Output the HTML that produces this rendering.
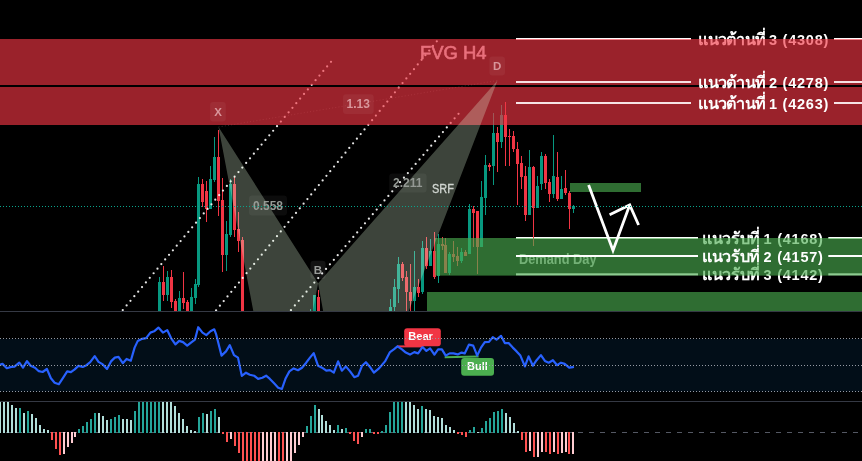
<!DOCTYPE html>
<html lang="th"><head><meta charset="utf-8"><title>Chart</title>
<style>
html,body{margin:0;padding:0;background:#000;}
body{width:862px;height:461px;overflow:hidden;position:relative;font-family:"Liberation Sans",sans-serif;}
svg text{font-family:"Liberation Sans",sans-serif;}
</style></head><body>
<svg width="862" height="461" viewBox="0 0 862 461" style="position:absolute;left:0;top:0;display:block">
<defs><clipPath id="cm"><rect x="0" y="0" width="862" height="311"/></clipPath><clipPath id="cd"><rect x="0" y="402" width="862" height="59"/></clipPath></defs>
<rect width="862" height="461" fill="#000"/>
<g font-family="'Liberation Sans', sans-serif" opacity="0.999">
<rect x="516" y="38" width="175" height="2" fill="#fff"/><rect x="834" y="38" width="28" height="2" fill="#fff"/><text x="698.3" y="44.6" font-size="16.2" font-weight="bold" fill="#fff" textLength="67.73">แนวต้านที่</text><text x="769" y="44.6" font-size="14.5" font-weight="bold" fill="#fff" textLength="59.3" lengthAdjust="spacing">3 (4308)</text>
<rect x="516" y="237" width="182" height="2" fill="#fff"/><rect x="828.3" y="237" width="33.7" height="2" fill="#fff"/><text x="702.2" y="243.6" font-size="16.2" font-weight="bold" fill="#fff" textLength="58.21">แนวรับที่</text><text x="763.6" y="243.6" font-size="14.5" font-weight="bold" fill="#fff" textLength="59.3" lengthAdjust="spacing">1 (4168)</text>
<rect x="516" y="273.3" width="182" height="2" fill="#fff"/><rect x="828.3" y="273.3" width="33.7" height="2" fill="#fff"/><text x="702.2" y="279.9" font-size="16.2" font-weight="bold" fill="#fff" textLength="58.21">แนวรับที่</text><text x="763.6" y="279.9" font-size="14.5" font-weight="bold" fill="#fff" textLength="59.3" lengthAdjust="spacing">3 (4142)</text>
<text x="519" y="264.3" font-size="14" font-weight="bold" fill="#fff" fill-opacity="0.72" textLength="77.5" lengthAdjust="spacingAndGlyphs">Demand Day</text>
<g clip-path="url(#cm)" shape-rendering="crispEdges">
<rect x="159" y="277" width="1" height="43" fill="#089981"/>
<rect x="158" y="281.8" width="3" height="38.2" fill="#089981"/>
<rect x="163" y="266" width="1" height="35" fill="#f23645"/>
<rect x="162" y="282" width="3" height="13" fill="#f23645"/>
<rect x="167" y="271" width="1" height="30" fill="#089981"/>
<rect x="166" y="277" width="3" height="18" fill="#089981"/>
<rect x="171" y="270" width="1" height="38" fill="#f23645"/>
<rect x="170" y="277" width="3" height="25" fill="#f23645"/>
<rect x="175" y="299" width="1" height="21" fill="#f23645"/>
<rect x="174" y="301" width="3" height="19" fill="#f23645"/>
<rect x="179" y="291" width="1" height="29" fill="#089981"/>
<rect x="178" y="298" width="3" height="22" fill="#089981"/>
<rect x="183" y="272" width="1" height="37" fill="#f23645"/>
<rect x="182" y="298" width="3" height="5" fill="#f23645"/>
<rect x="187" y="300" width="1" height="20" fill="#f23645"/>
<rect x="186" y="302" width="3" height="18" fill="#f23645"/>
<rect x="191" y="288" width="1" height="32" fill="#089981"/>
<rect x="190" y="297" width="3" height="23" fill="#089981"/>
<rect x="195" y="279" width="1" height="25" fill="#089981"/>
<rect x="194" y="284" width="3" height="14" fill="#089981"/>
<rect x="198" y="177" width="1" height="110" fill="#089981"/>
<rect x="197" y="184" width="3" height="101" fill="#089981"/>
<rect x="202" y="179" width="1" height="28" fill="#f23645"/>
<rect x="201" y="184" width="3" height="18" fill="#f23645"/>
<rect x="206" y="181" width="1" height="41" fill="#f23645"/>
<rect x="205" y="191" width="3" height="18" fill="#f23645"/>
<rect x="210" y="166" width="1" height="43" fill="#089981"/>
<rect x="209" y="179" width="3" height="30" fill="#089981"/>
<rect x="214" y="137" width="1" height="45" fill="#089981"/>
<rect x="213" y="157" width="3" height="23" fill="#089981"/>
<rect x="218" y="130" width="1" height="86" fill="#f23645"/>
<rect x="217" y="157" width="3" height="44" fill="#f23645"/>
<rect x="222" y="178" width="1" height="94" fill="#f23645"/>
<rect x="221" y="200" width="3" height="55" fill="#f23645"/>
<rect x="226" y="221" width="1" height="50" fill="#089981"/>
<rect x="225" y="234" width="3" height="21" fill="#089981"/>
<rect x="230" y="179" width="1" height="58" fill="#089981"/>
<rect x="229" y="184" width="3" height="51" fill="#089981"/>
<rect x="234" y="176" width="1" height="61" fill="#f23645"/>
<rect x="233" y="184" width="3" height="46" fill="#f23645"/>
<rect x="238" y="212" width="1" height="40" fill="#f23645"/>
<rect x="237" y="229" width="3" height="12" fill="#f23645"/>
<rect x="242" y="237" width="1" height="83" fill="#f23645"/>
<rect x="241" y="240" width="3" height="80" fill="#f23645"/>
<rect x="310" y="309" width="1" height="11" fill="#089981"/>
<rect x="309" y="312" width="3" height="8" fill="#089981"/>
<rect x="314" y="294.5" width="1" height="25.5" fill="#089981"/>
<rect x="313" y="295.3" width="3" height="24.7" fill="#089981"/>
<rect x="318" y="290" width="1" height="30" fill="#f23645"/>
<rect x="317" y="297" width="3" height="23" fill="#f23645"/>
<rect x="390" y="299" width="1" height="21" fill="#089981"/>
<rect x="389" y="307" width="3" height="13" fill="#089981"/>
<rect x="394" y="279.4" width="1" height="31.6" fill="#089981"/>
<rect x="393" y="287" width="3" height="20" fill="#089981"/>
<rect x="398" y="257" width="1" height="46" fill="#089981"/>
<rect x="397" y="264" width="3" height="25" fill="#089981"/>
<rect x="402" y="262" width="1" height="19" fill="#f23645"/>
<rect x="401" y="264" width="3" height="14" fill="#f23645"/>
<rect x="406" y="271" width="1" height="41" fill="#f23645"/>
<rect x="405" y="277" width="3" height="15" fill="#f23645"/>
<rect x="410" y="264" width="1" height="48" fill="#f23645"/>
<rect x="409" y="292" width="3" height="9" fill="#f23645"/>
<rect x="414" y="251" width="1" height="61" fill="#089981"/>
<rect x="413" y="287" width="3" height="14" fill="#089981"/>
<rect x="418" y="279" width="1" height="18" fill="#f23645"/>
<rect x="417" y="287" width="3" height="6" fill="#f23645"/>
<rect x="422" y="241" width="1" height="53" fill="#089981"/>
<rect x="421" y="248" width="3" height="44" fill="#089981"/>
<rect x="426" y="237" width="1" height="32" fill="#f23645"/>
<rect x="425" y="248" width="3" height="18" fill="#f23645"/>
<rect x="430" y="239" width="1" height="27" fill="#089981"/>
<rect x="429" y="251" width="3" height="15" fill="#089981"/>
<rect x="434" y="232" width="1" height="47" fill="#f23645"/>
<rect x="433" y="251" width="3" height="25.5" fill="#f23645"/>
<rect x="438" y="234" width="1" height="49" fill="#089981"/>
<rect x="437" y="244" width="3" height="31.6" fill="#089981"/>
<rect x="442" y="237" width="1" height="13" fill="#f23645"/>
<rect x="441" y="244" width="3" height="2" fill="#f23645"/>
<rect x="445" y="238" width="1" height="34.7" fill="#f23645"/>
<rect x="444" y="245" width="3" height="27.7" fill="#f23645"/>
<rect x="449" y="251.7" width="1" height="22.9" fill="#089981"/>
<rect x="448" y="254" width="3" height="18.7" fill="#089981"/>
<rect x="453" y="241" width="1" height="21" fill="#f23645"/>
<rect x="452" y="254" width="3" height="2.5" fill="#f23645"/>
<rect x="457" y="247" width="1" height="19" fill="#f23645"/>
<rect x="456" y="256" width="3" height="5" fill="#f23645"/>
<rect x="461" y="248" width="1" height="15" fill="#089981"/>
<rect x="460" y="251.7" width="3" height="9.3" fill="#089981"/>
<rect x="465" y="250" width="1" height="5.5" fill="#f23645"/>
<rect x="464" y="251.7" width="3" height="3.8" fill="#f23645"/>
<rect x="469" y="204" width="1" height="50" fill="#089981"/>
<rect x="468" y="208.8" width="3" height="45.2" fill="#089981"/>
<rect x="473" y="206" width="1" height="41" fill="#f23645"/>
<rect x="472" y="208.8" width="3" height="4.2" fill="#f23645"/>
<rect x="477" y="211" width="1" height="62.7" fill="#f23645"/>
<rect x="476" y="211" width="3" height="36" fill="#f23645"/>
<rect x="481" y="181" width="1" height="66" fill="#089981"/>
<rect x="480" y="197" width="3" height="50" fill="#089981"/>
<rect x="485" y="155" width="1" height="60" fill="#089981"/>
<rect x="484" y="165" width="3" height="33" fill="#089981"/>
<rect x="489" y="163" width="1" height="8" fill="#f23645"/>
<rect x="488" y="165" width="3" height="2" fill="#f23645"/>
<rect x="493" y="113" width="1" height="72" fill="#089981"/>
<rect x="492" y="133" width="3" height="33" fill="#089981"/>
<rect x="497" y="127" width="1" height="45" fill="#f23645"/>
<rect x="496" y="133" width="3" height="9" fill="#f23645"/>
<rect x="501" y="105" width="1" height="43" fill="#089981"/>
<rect x="500" y="115" width="3" height="27" fill="#089981"/>
<rect x="505" y="102" width="1" height="64" fill="#f23645"/>
<rect x="504" y="115" width="3" height="22" fill="#f23645"/>
<rect x="509" y="129" width="1" height="37" fill="#f23645"/>
<rect x="508" y="136" width="3" height="1" fill="#f23645"/>
<rect x="513" y="131" width="1" height="21" fill="#f23645"/>
<rect x="512" y="136" width="3" height="13" fill="#f23645"/>
<rect x="517" y="142" width="1" height="63" fill="#f23645"/>
<rect x="516" y="149" width="3" height="15" fill="#f23645"/>
<rect x="521" y="156" width="1" height="33" fill="#f23645"/>
<rect x="520" y="163" width="3" height="14" fill="#f23645"/>
<rect x="525" y="166" width="1" height="55" fill="#f23645"/>
<rect x="524" y="176" width="3" height="39" fill="#f23645"/>
<rect x="529" y="150" width="1" height="65" fill="#089981"/>
<rect x="528" y="167" width="3" height="48" fill="#089981"/>
<rect x="533" y="166" width="1" height="80" fill="#f23645"/>
<rect x="532" y="167" width="3" height="41" fill="#f23645"/>
<rect x="537" y="176" width="1" height="32" fill="#089981"/>
<rect x="536" y="186" width="3" height="22" fill="#089981"/>
<rect x="541" y="152" width="1" height="38" fill="#089981"/>
<rect x="540" y="156" width="3" height="28" fill="#089981"/>
<rect x="545" y="154" width="1" height="35" fill="#f23645"/>
<rect x="544" y="156" width="3" height="27" fill="#f23645"/>
<rect x="549" y="179" width="1" height="23" fill="#f23645"/>
<rect x="548" y="182" width="3" height="12" fill="#f23645"/>
<rect x="553" y="135" width="1" height="63" fill="#089981"/>
<rect x="552" y="176" width="3" height="18" fill="#089981"/>
<rect x="557" y="152" width="1" height="49" fill="#f23645"/>
<rect x="556" y="177" width="3" height="22" fill="#f23645"/>
<rect x="561" y="176" width="1" height="23" fill="#089981"/>
<rect x="560" y="189" width="3" height="10" fill="#089981"/>
<rect x="565" y="170" width="1" height="25" fill="#f23645"/>
<rect x="564" y="188" width="3" height="5.4" fill="#f23645"/>
<rect x="569" y="191" width="1" height="37.5" fill="#f23645"/>
<rect x="568" y="193" width="3" height="15.5" fill="#f23645"/>
<rect x="573" y="205" width="1" height="8" fill="#089981"/>
<rect x="572" y="206" width="3" height="3" fill="#089981"/>
</g>
<g fill="#fff" fill-opacity="0.9" clip-path="url(#cm)"><circle cx="331" cy="61.8" r="1.12"/><circle cx="327.14" cy="66.4" r="1.12"/><circle cx="323.29" cy="70.99" r="1.12"/><circle cx="319.43" cy="75.59" r="1.12"/><circle cx="315.57" cy="80.19" r="1.12"/><circle cx="311.72" cy="84.78" r="1.12"/><circle cx="307.86" cy="89.38" r="1.12"/><circle cx="304.01" cy="93.98" r="1.12"/><circle cx="300.15" cy="98.57" r="1.12"/><circle cx="296.29" cy="103.17" r="1.12"/><circle cx="292.44" cy="107.77" r="1.12"/><circle cx="288.58" cy="112.36" r="1.12"/><circle cx="284.72" cy="116.96" r="1.12"/><circle cx="280.87" cy="121.56" r="1.12"/><circle cx="277.01" cy="126.15" r="1.12"/><circle cx="273.16" cy="130.75" r="1.12"/><circle cx="269.3" cy="135.35" r="1.12"/><circle cx="265.44" cy="139.94" r="1.12"/><circle cx="261.59" cy="144.54" r="1.12"/><circle cx="257.73" cy="149.14" r="1.12"/><circle cx="253.87" cy="153.73" r="1.12"/><circle cx="250.02" cy="158.33" r="1.12"/><circle cx="246.16" cy="162.93" r="1.12"/><circle cx="242.31" cy="167.52" r="1.12"/><circle cx="238.45" cy="172.12" r="1.12"/><circle cx="234.59" cy="176.72" r="1.12"/><circle cx="230.74" cy="181.31" r="1.12"/><circle cx="226.88" cy="185.91" r="1.12"/><circle cx="223.02" cy="190.51" r="1.12"/><circle cx="219.17" cy="195.1" r="1.12"/><circle cx="215.31" cy="199.7" r="1.12"/><circle cx="211.46" cy="204.3" r="1.12"/><circle cx="207.6" cy="208.89" r="1.12"/><circle cx="203.74" cy="213.49" r="1.12"/><circle cx="199.89" cy="218.09" r="1.12"/><circle cx="196.03" cy="222.68" r="1.12"/><circle cx="192.17" cy="227.28" r="1.12"/><circle cx="188.32" cy="231.88" r="1.12"/><circle cx="184.46" cy="236.47" r="1.12"/><circle cx="180.61" cy="241.07" r="1.12"/><circle cx="176.75" cy="245.67" r="1.12"/><circle cx="172.89" cy="250.26" r="1.12"/><circle cx="169.04" cy="254.86" r="1.12"/><circle cx="165.18" cy="259.46" r="1.12"/><circle cx="161.32" cy="264.05" r="1.12"/><circle cx="157.47" cy="268.65" r="1.12"/><circle cx="153.61" cy="273.25" r="1.12"/><circle cx="149.76" cy="277.84" r="1.12"/><circle cx="145.9" cy="282.44" r="1.12"/><circle cx="142.04" cy="287.04" r="1.12"/><circle cx="138.19" cy="291.63" r="1.12"/><circle cx="134.33" cy="296.23" r="1.12"/><circle cx="130.47" cy="300.83" r="1.12"/><circle cx="126.62" cy="305.42" r="1.12"/><circle cx="122.76" cy="310.02" r="1.12"/><circle cx="436.8" cy="41.3" r="1.12"/><circle cx="432.99" cy="45.94" r="1.12"/><circle cx="429.19" cy="50.58" r="1.12"/><circle cx="425.38" cy="55.22" r="1.12"/><circle cx="421.58" cy="59.86" r="1.12"/><circle cx="417.77" cy="64.49" r="1.12"/><circle cx="413.97" cy="69.13" r="1.12"/><circle cx="410.16" cy="73.77" r="1.12"/><circle cx="406.36" cy="78.41" r="1.12"/><circle cx="402.55" cy="83.05" r="1.12"/><circle cx="398.75" cy="87.69" r="1.12"/><circle cx="394.94" cy="92.33" r="1.12"/><circle cx="391.13" cy="96.97" r="1.12"/><circle cx="387.33" cy="101.6" r="1.12"/><circle cx="383.52" cy="106.24" r="1.12"/><circle cx="379.72" cy="110.88" r="1.12"/><circle cx="375.91" cy="115.52" r="1.12"/><circle cx="372.11" cy="120.16" r="1.12"/><circle cx="368.3" cy="124.8" r="1.12"/><circle cx="364.5" cy="129.44" r="1.12"/><circle cx="360.69" cy="134.08" r="1.12"/><circle cx="356.89" cy="138.72" r="1.12"/><circle cx="353.08" cy="143.35" r="1.12"/><circle cx="349.28" cy="147.99" r="1.12"/><circle cx="345.47" cy="152.63" r="1.12"/><circle cx="341.66" cy="157.27" r="1.12"/><circle cx="337.86" cy="161.91" r="1.12"/><circle cx="334.05" cy="166.55" r="1.12"/><circle cx="330.25" cy="171.19" r="1.12"/><circle cx="326.44" cy="175.83" r="1.12"/><circle cx="322.64" cy="180.46" r="1.12"/><circle cx="318.83" cy="185.1" r="1.12"/><circle cx="315.03" cy="189.74" r="1.12"/><circle cx="311.22" cy="194.38" r="1.12"/><circle cx="307.42" cy="199.02" r="1.12"/><circle cx="303.61" cy="203.66" r="1.12"/><circle cx="299.8" cy="208.3" r="1.12"/><circle cx="296" cy="212.94" r="1.12"/><circle cx="292.19" cy="217.58" r="1.12"/><circle cx="288.39" cy="222.21" r="1.12"/><circle cx="284.58" cy="226.85" r="1.12"/><circle cx="280.78" cy="231.49" r="1.12"/><circle cx="276.97" cy="236.13" r="1.12"/><circle cx="273.17" cy="240.77" r="1.12"/><circle cx="269.36" cy="245.41" r="1.12"/><circle cx="265.56" cy="250.05" r="1.12"/><circle cx="261.75" cy="254.69" r="1.12"/><circle cx="257.94" cy="259.32" r="1.12"/><circle cx="254.14" cy="263.96" r="1.12"/><circle cx="250.33" cy="268.6" r="1.12"/><circle cx="246.53" cy="273.24" r="1.12"/><circle cx="242.72" cy="277.88" r="1.12"/><circle cx="238.92" cy="282.52" r="1.12"/><circle cx="235.11" cy="287.16" r="1.12"/><circle cx="231.31" cy="291.8" r="1.12"/><circle cx="227.5" cy="296.44" r="1.12"/><circle cx="223.7" cy="301.07" r="1.12"/><circle cx="219.89" cy="305.71" r="1.12"/><circle cx="216.08" cy="310.35" r="1.12"/><circle cx="458.5" cy="113.8" r="1.12"/><circle cx="454.6" cy="118.36" r="1.12"/><circle cx="450.71" cy="122.93" r="1.12"/><circle cx="446.81" cy="127.49" r="1.12"/><circle cx="442.91" cy="132.05" r="1.12"/><circle cx="439.02" cy="136.61" r="1.12"/><circle cx="435.12" cy="141.18" r="1.12"/><circle cx="431.23" cy="145.74" r="1.12"/><circle cx="427.33" cy="150.3" r="1.12"/><circle cx="423.43" cy="154.86" r="1.12"/><circle cx="419.54" cy="159.43" r="1.12"/><circle cx="415.64" cy="163.99" r="1.12"/><circle cx="411.74" cy="168.55" r="1.12"/><circle cx="407.85" cy="173.11" r="1.12"/><circle cx="403.95" cy="177.68" r="1.12"/><circle cx="400.05" cy="182.24" r="1.12"/><circle cx="396.16" cy="186.8" r="1.12"/><circle cx="392.26" cy="191.37" r="1.12"/><circle cx="388.36" cy="195.93" r="1.12"/><circle cx="384.47" cy="200.49" r="1.12"/><circle cx="380.57" cy="205.05" r="1.12"/><circle cx="376.68" cy="209.62" r="1.12"/><circle cx="372.78" cy="214.18" r="1.12"/><circle cx="368.88" cy="218.74" r="1.12"/><circle cx="364.99" cy="223.3" r="1.12"/><circle cx="361.09" cy="227.87" r="1.12"/><circle cx="357.19" cy="232.43" r="1.12"/><circle cx="353.3" cy="236.99" r="1.12"/><circle cx="349.4" cy="241.56" r="1.12"/><circle cx="345.5" cy="246.12" r="1.12"/><circle cx="341.61" cy="250.68" r="1.12"/><circle cx="337.71" cy="255.24" r="1.12"/><circle cx="333.82" cy="259.81" r="1.12"/><circle cx="329.92" cy="264.37" r="1.12"/><circle cx="326.02" cy="268.93" r="1.12"/><circle cx="322.13" cy="273.49" r="1.12"/><circle cx="318.23" cy="278.06" r="1.12"/><circle cx="314.33" cy="282.62" r="1.12"/><circle cx="310.44" cy="287.18" r="1.12"/><circle cx="306.54" cy="291.74" r="1.12"/><circle cx="302.64" cy="296.31" r="1.12"/><circle cx="298.75" cy="300.87" r="1.12"/><circle cx="294.85" cy="305.43" r="1.12"/><circle cx="290.95" cy="310" r="1.12"/></g>
<path d="M218.5 127L497.5 80.5" stroke="#fff" stroke-opacity="0.18" stroke-width="1" stroke-dasharray="1 2.2" fill="none"/>
<rect x="0" y="39" width="862" height="46" fill="#f23645" fill-opacity="0.64"/>
<rect x="0" y="87" width="862" height="38" fill="#f23645" fill-opacity="0.64"/>
<rect x="435" y="238" width="427" height="37.6" fill="#4caf50" fill-opacity="0.63"/>
<rect x="427" y="292" width="435" height="19" fill="#4caf50" fill-opacity="0.63"/>
<rect x="570" y="183" width="71" height="9" fill="#4caf50" fill-opacity="0.63"/>
<g clip-path="url(#cm)"><path d="M218.5 127L318.1 283.3L312.8 311L253.3 311Z M318.1 283.3L497.5 80.5L408.8 311L323.1 311Z" fill="rgb(228,255,220)" fill-opacity="0.272"/></g>
<rect x="516" y="81" width="175" height="2" fill="#f7e4e6"/><rect x="834" y="81" width="28" height="2" fill="#f7e4e6"/><text x="698.3" y="87.6" font-size="16.2" font-weight="bold" fill="#fff" textLength="67.73">แนวต้านที่</text><text x="769" y="87.6" font-size="14.5" font-weight="bold" fill="#fff" textLength="59.3" lengthAdjust="spacing">2 (4278)</text>
<rect x="516" y="102" width="175" height="2" fill="#f7e4e6"/><rect x="834" y="102" width="28" height="2" fill="#f7e4e6"/><text x="698.3" y="108.6" font-size="16.2" font-weight="bold" fill="#fff" textLength="67.73">แนวต้านที่</text><text x="769" y="108.6" font-size="14.5" font-weight="bold" fill="#fff" textLength="59.3" lengthAdjust="spacing">1 (4263)</text>
<rect x="516" y="255" width="182" height="2" fill="#fff"/><rect x="828.3" y="255" width="33.7" height="2" fill="#fff"/><text x="702.2" y="261.6" font-size="16.2" font-weight="bold" fill="#fff" textLength="58.21">แนวรับที่</text><text x="763.6" y="261.6" font-size="14.5" font-weight="bold" fill="#fff" textLength="59.3" lengthAdjust="spacing">2 (4157)</text>
<path d="M588.6 185L613 250.5L629.7 205M609.6 214.8L629.7 204.9L638.6 225" stroke="#fff" stroke-width="2.8" fill="none" stroke-linejoin="miter" stroke-linecap="butt"/>
<text x="420" y="58.7" font-size="18" fill="#ea717d" stroke="#ea717d" stroke-width="0.6" textLength="66.6" lengthAdjust="spacingAndGlyphs">FVG H4</text>
<rect x="210.1" y="102" width="15.7" height="19.5" rx="3" fill="#fff" fill-opacity="0.05"/>
<text x="218" y="116" font-size="11.5" font-weight="bold" fill="#d9979c" text-anchor="middle" textLength="7.67" lengthAdjust="spacingAndGlyphs">X</text>
<rect x="489.4" y="56.4" width="15.6" height="19" rx="3" fill="#fff" fill-opacity="0.05"/>
<text x="497.2" y="70.3" font-size="11.5" font-weight="bold" fill="#d9979c" text-anchor="middle" textLength="8.31" lengthAdjust="spacingAndGlyphs">D</text>
<rect x="310.5" y="260.7" width="15.1" height="18.2" rx="3" fill="#fff" fill-opacity="0.08"/>
<text x="318" y="274.3" font-size="11.5" font-weight="bold" fill="#9a9c9a" text-anchor="middle" textLength="8.31" lengthAdjust="spacingAndGlyphs">B</text>
<rect x="343" y="94.3" width="30.7" height="19.6" rx="3" fill="#fff" fill-opacity="0.05"/>
<text x="358.3" y="108.2" font-size="12" font-weight="bold" fill="#d9979c" text-anchor="middle" textLength="23.36" lengthAdjust="spacingAndGlyphs">1.13</text>
<rect x="249" y="195.5" width="38" height="20" rx="3" fill="#fff" fill-opacity="0.05"/>
<text x="268" y="209.8" font-size="12" font-weight="bold" fill="#979c97" text-anchor="middle" textLength="30.03" lengthAdjust="spacingAndGlyphs">0.558</text>
<rect x="389.2" y="173.4" width="37.4" height="19.1" rx="3" fill="#fff" fill-opacity="0.05"/>
<text x="407.8" y="186.9" font-size="12" font-weight="bold" fill="#959a95" text-anchor="middle" textLength="29.38" lengthAdjust="spacingAndGlyphs">2.211</text>
<text x="432" y="192.7" font-size="13.5" fill="#d2d7d2" stroke="#d2d7d2" stroke-width="0.35" textLength="21.8" lengthAdjust="spacingAndGlyphs">SRF</text>
<path d="M0 206.5H862" stroke="#0aa58d" stroke-width="1" stroke-dasharray="1 2" fill="none" shape-rendering="crispEdges"/>
<rect x="0" y="311" width="862" height="1" fill="#363a45"/>
<rect x="0" y="401" width="862" height="1" fill="#363a45"/>
<rect x="0" y="339" width="862" height="52.5" fill="#2196f3" fill-opacity="0.1"/>
<path d="M397 346.4H423" stroke="#f23645" stroke-width="2" fill="none"/>
<path d="M444.7 357.2L478.6 356.6" stroke="#4caf50" stroke-width="2" fill="none"/>
<polyline points="0,364.7 2.5,363.9 6.8,368.2 11.3,366.9 14.5,366.7 19.3,362.7 23,367.7 27,361.2 30.6,365.7 35,367.7 38.8,371.2 42.6,372 46.9,369 50.9,378.2 54.6,382.7 58.9,384.2 63.2,377.7 67.2,371.4 70.9,372.2 74.7,369.4 78.4,365.9 82.7,366.9 86.5,365.2 90.2,362.2 94.7,356.1 98.5,361.9 102.8,364.4 107,368.9 111,361.4 114.8,357.6 118.5,356.9 122.8,363.2 126.6,358.9 130.8,360.7 134.6,347.6 137.8,340.9 142.1,338.8 146.1,338.1 150.4,332.6 154.1,331.3 158.4,327.6 162.9,332.6 167.2,330.1 171.2,338.3 175.4,344.4 179.2,340.9 183,342.1 187.2,345.6 191,342.6 195,339.6 198.2,327.2 202.5,332.6 206.3,335.1 210.5,331.3 214.3,329.3 216,333.8 221.5,355.6 226,351.4 229.8,345.1 234,355.1 238,357.6 241.8,375.9 246,372.7 249.8,374.7 254.1,375.7 258.1,378.9 262.4,377.7 266.1,375.7 269.9,378.9 274.1,383.2 278.2,387.7 281.9,389 285.7,378.2 289.4,371.4 293.7,368.4 298,370.2 302,367.7 306.2,362.7 310,357.6 313.7,353.1 318,365.7 322,367.7 326.3,370.7 330,370.2 333.8,372.7 338.1,361.4 341.8,370.7 345.8,366.4 350.1,371.4 354.3,377.2 358.1,375.7 362.1,365.7 365.9,362.2 369.6,366.4 373.9,372.7 378.4,368.9 381.5,365.5 385,361.4 390,352.1 393.8,349.4 397.5,346.4 402,349.4 405.8,352.6 410,354.6 414.3,352.1 418.1,353.4 422.6,346.9 426.4,350.9 430.1,348.4 434.4,354.6 438.1,349.4 441.9,349.4 445.7,355.6 449.7,353.4 453.4,353.4 457.7,354.4 461.5,352.6 464.7,353.4 469,344.6 473.2,345.6 477.2,355.6 481,347.6 484.8,342.1 489,341.9 492.8,337.1 496.5,339.6 501,335.8 504.8,343.1 508.6,343.1 512.8,347.6 516.6,351.4 520.4,355.6 524.9,366.4 528.6,356.4 532.9,365.7 536.6,360.2 540.9,355.1 544.9,360.9 548.7,362.7 552.9,360.2 557.2,365.2 561,362.7 564.7,363.9 569.2,367.7 573,367.2" fill="none" stroke="#2962ff" stroke-width="2.2" stroke-linejoin="round" stroke-linecap="round"/>
<rect x="404.2" y="328.2" width="36.6" height="18" rx="3" fill="#f23645"/>
<text x="420.6" y="339.6" font-size="11" font-weight="bold" fill="#fff" text-anchor="middle" textLength="24.47" lengthAdjust="spacingAndGlyphs">Bear</text>
<rect x="461.2" y="358.1" width="32.8" height="17.7" rx="3" fill="#4caf50"/>
<text x="477.4" y="369.5" font-size="11" font-weight="bold" fill="#fff" text-anchor="middle" textLength="20.78" lengthAdjust="spacingAndGlyphs">Bull</text>
<path d="M0 338.5H862" stroke="#969ba5" stroke-width="1" stroke-dasharray="1 2" fill="none" shape-rendering="crispEdges"/>
<path d="M0 365.5H862" stroke="#969ba5" stroke-width="1" stroke-dasharray="1 2" fill="none" shape-rendering="crispEdges"/>
<path d="M0 391.5H862" stroke="#969ba5" stroke-width="1" stroke-dasharray="1 2" fill="none" shape-rendering="crispEdges"/>
<path d="M-5 432.5H862" stroke="#555964" stroke-width="1" stroke-dasharray="5 6" fill="none"/>
<g clip-path="url(#cd)" shape-rendering="crispEdges">
<rect x="-1" y="402" width="2" height="31" fill="#b2dfdb"/>
<rect x="3" y="402" width="2" height="31" fill="#b2dfdb"/>
<rect x="7" y="402" width="2" height="31" fill="#b2dfdb"/>
<rect x="11" y="405" width="2" height="28" fill="#b2dfdb"/>
<rect x="15" y="408" width="2" height="25" fill="#b2dfdb"/>
<rect x="19" y="408" width="2" height="25" fill="#26a69a"/>
<rect x="23" y="413" width="2" height="20" fill="#b2dfdb"/>
<rect x="27" y="411" width="2" height="22" fill="#26a69a"/>
<rect x="31" y="414" width="2" height="19" fill="#b2dfdb"/>
<rect x="35" y="418" width="2" height="15" fill="#b2dfdb"/>
<rect x="39" y="425" width="2" height="8" fill="#b2dfdb"/>
<rect x="43" y="429" width="2" height="4" fill="#b2dfdb"/>
<rect x="47" y="430" width="2" height="3" fill="#b2dfdb"/>
<rect x="51" y="432" width="2" height="8" fill="#ff5252"/>
<rect x="55" y="432" width="2" height="17" fill="#ff5252"/>
<rect x="59" y="432" width="2" height="23" fill="#ff5252"/>
<rect x="63" y="432" width="2" height="22" fill="#ffcdd2"/>
<rect x="67" y="432" width="2" height="15" fill="#ffcdd2"/>
<rect x="71" y="432" width="2" height="11" fill="#ffcdd2"/>
<rect x="74" y="432" width="2" height="5" fill="#ffcdd2"/>
<rect x="78" y="429" width="2" height="4" fill="#26a69a"/>
<rect x="82" y="426" width="2" height="7" fill="#26a69a"/>
<rect x="86" y="422" width="2" height="11" fill="#26a69a"/>
<rect x="90" y="419" width="2" height="14" fill="#26a69a"/>
<rect x="94" y="413" width="2" height="20" fill="#26a69a"/>
<rect x="98" y="413" width="2" height="20" fill="#b2dfdb"/>
<rect x="102" y="416" width="2" height="17" fill="#b2dfdb"/>
<rect x="106" y="420" width="2" height="13" fill="#b2dfdb"/>
<rect x="110" y="419" width="2" height="14" fill="#26a69a"/>
<rect x="114" y="417" width="2" height="16" fill="#26a69a"/>
<rect x="118" y="415" width="2" height="18" fill="#26a69a"/>
<rect x="122" y="419" width="2" height="14" fill="#b2dfdb"/>
<rect x="126" y="419" width="2" height="14" fill="#b2dfdb"/>
<rect x="130" y="420" width="2" height="13" fill="#b2dfdb"/>
<rect x="134" y="411" width="2" height="22" fill="#26a69a"/>
<rect x="138" y="402" width="2" height="31" fill="#26a69a"/>
<rect x="142" y="402" width="2" height="31" fill="#26a69a"/>
<rect x="146" y="402" width="2" height="31" fill="#26a69a"/>
<rect x="150" y="402" width="2" height="31" fill="#26a69a"/>
<rect x="154" y="402" width="2" height="31" fill="#26a69a"/>
<rect x="158" y="402" width="2" height="31" fill="#26a69a"/>
<rect x="162" y="402" width="2" height="31" fill="#b2dfdb"/>
<rect x="166" y="402" width="2" height="31" fill="#b2dfdb"/>
<rect x="170" y="402" width="2" height="31" fill="#b2dfdb"/>
<rect x="174" y="406" width="2" height="27" fill="#b2dfdb"/>
<rect x="178" y="413" width="2" height="20" fill="#b2dfdb"/>
<rect x="182" y="419" width="2" height="14" fill="#b2dfdb"/>
<rect x="186" y="426" width="2" height="7" fill="#b2dfdb"/>
<rect x="190" y="430" width="2" height="3" fill="#b2dfdb"/>
<rect x="194" y="431" width="2" height="2" fill="#b2dfdb"/>
<rect x="198" y="417" width="2" height="16" fill="#26a69a"/>
<rect x="202" y="413" width="2" height="20" fill="#26a69a"/>
<rect x="206" y="414" width="2" height="19" fill="#b2dfdb"/>
<rect x="210" y="411" width="2" height="22" fill="#26a69a"/>
<rect x="214" y="409" width="2" height="24" fill="#26a69a"/>
<rect x="218" y="417" width="2" height="16" fill="#b2dfdb"/>
<rect x="222" y="432" width="2" height="2" fill="#ff5252"/>
<rect x="226" y="432" width="2" height="10" fill="#ff5252"/>
<rect x="230" y="432" width="2" height="7" fill="#ffcdd2"/>
<rect x="234" y="432" width="2" height="14" fill="#ff5252"/>
<rect x="238" y="432" width="2" height="21" fill="#ff5252"/>
<rect x="242" y="432" width="2" height="29" fill="#ff5252"/>
<rect x="246" y="432" width="2" height="29" fill="#ff5252"/>
<rect x="250" y="432" width="2" height="29" fill="#ff5252"/>
<rect x="254" y="432" width="2" height="29" fill="#ff5252"/>
<rect x="258" y="432" width="2" height="29" fill="#ff5252"/>
<rect x="262" y="432" width="2" height="29" fill="#ffcdd2"/>
<rect x="266" y="432" width="2" height="29" fill="#ffcdd2"/>
<rect x="270" y="432" width="2" height="29" fill="#ffcdd2"/>
<rect x="274" y="432" width="2" height="29" fill="#ffcdd2"/>
<rect x="278" y="432" width="2" height="29" fill="#ff5252"/>
<rect x="282" y="432" width="2" height="29" fill="#ff5252"/>
<rect x="286" y="432" width="2" height="29" fill="#ffcdd2"/>
<rect x="290" y="432" width="2" height="29" fill="#ffcdd2"/>
<rect x="294" y="432" width="2" height="21" fill="#ffcdd2"/>
<rect x="298" y="432" width="2" height="13" fill="#ffcdd2"/>
<rect x="302" y="432" width="2" height="5" fill="#ffcdd2"/>
<rect x="306" y="426" width="2" height="7" fill="#26a69a"/>
<rect x="310" y="416" width="2" height="17" fill="#26a69a"/>
<rect x="314" y="405" width="2" height="28" fill="#26a69a"/>
<rect x="318" y="409" width="2" height="24" fill="#b2dfdb"/>
<rect x="321" y="415" width="2" height="18" fill="#b2dfdb"/>
<rect x="325" y="421" width="2" height="12" fill="#b2dfdb"/>
<rect x="329" y="425" width="2" height="8" fill="#b2dfdb"/>
<rect x="333" y="430" width="2" height="3" fill="#b2dfdb"/>
<rect x="337" y="425" width="2" height="8" fill="#26a69a"/>
<rect x="341" y="429" width="2" height="4" fill="#b2dfdb"/>
<rect x="345" y="428" width="2" height="5" fill="#26a69a"/>
<rect x="349" y="432" width="2" height="2" fill="#ff5252"/>
<rect x="353" y="432" width="2" height="9" fill="#ff5252"/>
<rect x="357" y="432" width="2" height="12" fill="#ff5252"/>
<rect x="361" y="432" width="2" height="5" fill="#ffcdd2"/>
<rect x="365" y="429" width="2" height="4" fill="#26a69a"/>
<rect x="369" y="429" width="2" height="4" fill="#26a69a"/>
<rect x="373" y="432" width="2" height="2" fill="#ff5252"/>
<rect x="377" y="432" width="2" height="2" fill="#ff5252"/>
<rect x="381" y="431" width="2" height="2" fill="#26a69a"/>
<rect x="385" y="425" width="2" height="8" fill="#26a69a"/>
<rect x="389" y="412" width="2" height="21" fill="#26a69a"/>
<rect x="393" y="402" width="2" height="31" fill="#26a69a"/>
<rect x="397" y="402" width="2" height="31" fill="#26a69a"/>
<rect x="401" y="402" width="2" height="31" fill="#26a69a"/>
<rect x="405" y="402" width="2" height="31" fill="#b2dfdb"/>
<rect x="409" y="402" width="2" height="31" fill="#b2dfdb"/>
<rect x="413" y="405" width="2" height="28" fill="#b2dfdb"/>
<rect x="417" y="409" width="2" height="24" fill="#b2dfdb"/>
<rect x="421" y="406" width="2" height="27" fill="#26a69a"/>
<rect x="425" y="409" width="2" height="24" fill="#b2dfdb"/>
<rect x="429" y="410" width="2" height="23" fill="#b2dfdb"/>
<rect x="433" y="416" width="2" height="17" fill="#b2dfdb"/>
<rect x="437" y="417" width="2" height="16" fill="#b2dfdb"/>
<rect x="441" y="418" width="2" height="15" fill="#b2dfdb"/>
<rect x="445" y="425" width="2" height="8" fill="#b2dfdb"/>
<rect x="449" y="427" width="2" height="6" fill="#b2dfdb"/>
<rect x="453" y="430" width="2" height="3" fill="#b2dfdb"/>
<rect x="457" y="432" width="2" height="2" fill="#ff5252"/>
<rect x="461" y="432" width="2" height="3" fill="#ff5252"/>
<rect x="465" y="432" width="2" height="5" fill="#ff5252"/>
<rect x="469" y="430" width="2" height="3" fill="#26a69a"/>
<rect x="473" y="427" width="2" height="6" fill="#26a69a"/>
<rect x="477" y="432" width="2" height="1" fill="#b2dfdb"/>
<rect x="481" y="428" width="2" height="5" fill="#26a69a"/>
<rect x="485" y="421" width="2" height="12" fill="#26a69a"/>
<rect x="489" y="418" width="2" height="15" fill="#26a69a"/>
<rect x="493" y="412" width="2" height="21" fill="#26a69a"/>
<rect x="497" y="411" width="2" height="22" fill="#26a69a"/>
<rect x="501" y="409" width="2" height="24" fill="#26a69a"/>
<rect x="505" y="413" width="2" height="20" fill="#b2dfdb"/>
<rect x="509" y="417" width="2" height="16" fill="#b2dfdb"/>
<rect x="513" y="423" width="2" height="10" fill="#b2dfdb"/>
<rect x="517" y="431" width="2" height="2" fill="#b2dfdb"/>
<rect x="521" y="432" width="2" height="8" fill="#ff5252"/>
<rect x="525" y="432" width="2" height="20" fill="#ff5252"/>
<rect x="529" y="432" width="2" height="19" fill="#ffcdd2"/>
<rect x="533" y="432" width="2" height="25" fill="#ff5252"/>
<rect x="537" y="432" width="2" height="25" fill="#ffcdd2"/>
<rect x="541" y="432" width="2" height="20" fill="#ffcdd2"/>
<rect x="545" y="432" width="2" height="20" fill="#ff5252"/>
<rect x="549" y="432" width="2" height="22" fill="#ff5252"/>
<rect x="553" y="432" width="2" height="20" fill="#ffcdd2"/>
<rect x="557" y="432" width="2" height="22" fill="#ff5252"/>
<rect x="561" y="432" width="2" height="21" fill="#ffcdd2"/>
<rect x="565" y="432" width="2" height="20" fill="#ffcdd2"/>
<rect x="568" y="432" width="2" height="22" fill="#ff5252"/>
<rect x="572" y="432" width="2" height="22" fill="#ffcdd2"/>
</g>
</g></svg>
</body></html>
